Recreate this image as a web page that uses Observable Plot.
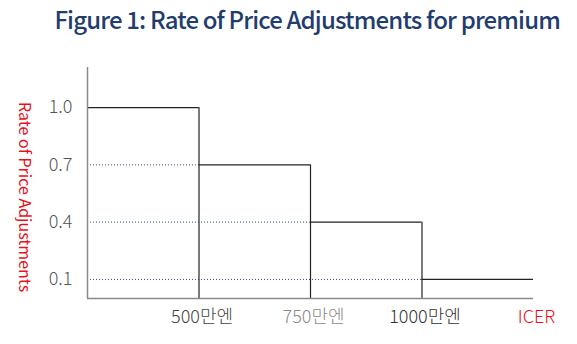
<!DOCTYPE html>
<html>
<head>
<meta charset="utf-8">
<script src="https://cdn.jsdelivr.net/npm/d3@7"></script>
<script src="https://cdn.jsdelivr.net/npm/@observablehq/plot@0.6"></script>
<style>
  html, body { margin: 0; padding: 0; background: #fff; }
  #wrap { width: 577px; height: 344px; position: relative; overflow: hidden; }
  #title {
    height: 48px; box-sizing: border-box; padding-right: 17px; padding-top: 3px;
    text-align: right; white-space: nowrap;
    font-family: "Noto Sans CJK KR", "Noto Sans", sans-serif; font-weight: 500;
    font-size: 24px; letter-spacing: -0.85px; color: #1f3d6e; line-height: 32px;
  }
</style>
</head>
<body>
<div id="wrap">
  <div id="title">Figure 1: Rate of Price Adjustments for premium</div>
  <div id="chart"></div>
</div>
<script>
// Step boundaries (ICER, 만엔); first boundary is the plot's left edge
const bounds = [250, 500, 750, 1000, 1250];
// Rate of price adjustment within each interval
const rates = [1.0, 0.7, 0.4, 0.1];
// Y tick values
const yTicks = [0.1, 0.4, 0.7, 1.0];
// X tick values and labels
const xTicks = [500, 750, 1000, 1250];
const xTickLabels = ["500만엔", "750만엔", "1000만엔", "ICER"];
const xTickColors = ["#444", "#8a8a8a", "#333", "#e8111b"];

const segs = rates.map((r, i) => ({x1: bounds[i], x2: bounds[i + 1], y: r, last: i === rates.length - 1}));
const font = "'Noto Sans CJK KR', 'Noto Sans', sans-serif";

const chart = Plot.plot({
  width: 577,
  height: 296,
  marginLeft: 87,
  marginRight: 44,
  marginTop: 19,
  marginBottom: 46,
  style: {fontFamily: font, background: "#fff"},
  x: {type: "linear", domain: [bounds[0], bounds[bounds.length - 1]], axis: null},
  y: {domain: [0, 1.21], axis: null},
  color: {type: "identity"},
  marks: [
    // dotted guides from y-axis to the start of each step
    Plot.ruleY(segs.filter(d => d.x1 > bounds[0]), {
      y: "y", x1: bounds[0], x2: "x1",
      stroke: "#2e4f86", strokeWidth: 1, strokeDasharray: "1,2"
    }),
    // horizontal step tops
    Plot.ruleY(segs, {y: "y", x1: "x1", x2: "x2", stroke: "#222", strokeWidth: 1.2}),
    // vertical step edges
    Plot.ruleX(segs.filter(d => !d.last), {x: "x2", y1: 0, y2: "y", stroke: "#222", strokeWidth: 1.2}),
    // axis lines
    Plot.ruleX([bounds[0]], {stroke: "#8a8a8a", strokeWidth: 1.5}),
    Plot.ruleY([0], {stroke: "#8a8a8a", strokeWidth: 1.5}),
    // y tick labels
    Plot.text(yTicks, {
      y: d => d, frameAnchor: "left", dx: -15, textAnchor: "end",
      text: d3.format(".1f"), fill: "#555", fontSize: 18, fontWeight: 300, letterSpacing: "-0.6px"
    }),
    // x tick labels
    Plot.text(xTicks, {
      x: d => d, frameAnchor: "bottom", dy: 19, dx: 3,
      text: (d, i) => xTickLabels[i], fill: (d, i) => xTickColors[i],
      fontSize: 18, fontWeight: 300, lineAnchor: "middle", letterSpacing: "-1.3px"
    }),
    // y axis title
    Plot.text(["Rate of Price Adjustments"], {
      frameAnchor: "left", dx: -63, dy: 14, rotate: 90, textAnchor: "middle",
      fill: "#e8111b", fontSize: 16, fontWeight: 400, letterSpacing: "-1px"
    })
  ]
});
document.getElementById("chart").appendChild(chart);
</script>
</body>
</html>
